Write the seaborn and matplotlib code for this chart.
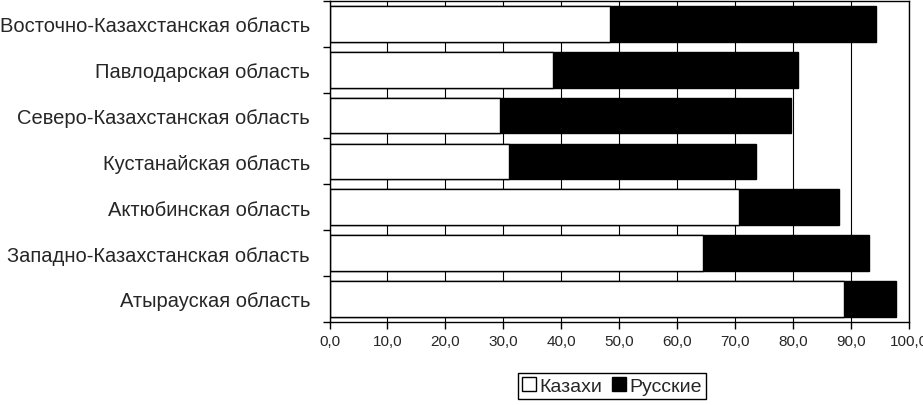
import pandas as pd
import matplotlib.pyplot as plt
import seaborn as sns
import numpy as np
from matplotlib.patches import Patch
from matplotlib.ticker import FixedLocator

# Dati (% della popolazione)
regioni = ["Восточно-Казахстанская область", "Павлодарская область",
           "Северо-Казахстанская область", "Кустанайская область",
           "Актюбинская область", "Западно-Казахстанская область",
           "Атырауская область"]
kazakhi = [48.4, 38.5, 29.4, 31.0, 70.6, 64.4, 88.7]
russkie = [45.9, 42.4, 50.3, 42.6, 17.3, 28.7, 9.0]
xticks = [0, 10, 20, 30, 40, 50, 60, 70, 80, 90, 100]

df = pd.DataFrame({"Регион": regioni, "Казахи": kazakhi, "Русские": russkie})
df["Итого"] = df["Казахи"] + df["Русские"]

sns.set_style("white")
plt.rcParams['font.family'] = ['Liberation Sans', 'DejaVu Sans']

fig, ax = plt.subplots(figsize=(9.23, 4.06), dpi=100)
fig.subplots_adjust(left=0.357, right=0.985, top=0.995, bottom=0.205)

# barre impilate: prima il totale (nero), poi i kazakhi (bianco) sopra
sns.barplot(data=df, y="Регион", x="Итого", color="black", edgecolor="black",
            linewidth=1, width=0.78, orient="h", ax=ax, saturation=1)
sns.barplot(data=df, y="Регион", x="Казахи", color="white", edgecolor="black",
            linewidth=1, width=0.78, orient="h", ax=ax, saturation=1)

ax.set_xlim(0, 100)
ax.set_ylim(len(regioni) - 0.5, -0.5)
ax.set_xticks(xticks)
ax.set_xticklabels([f"{v:.1f}".replace(".", ",") for v in xticks], fontsize=11)
ax.tick_params(axis="y", labelsize=14.5, length=0, pad=14)
ax.yaxis.set_minor_locator(FixedLocator(np.arange(-0.5, len(regioni), 1)))
ax.tick_params(axis="y", which="minor", length=5, width=1, color="black", left=True)
ax.tick_params(axis="x", which="major", length=5, width=1, color="black", bottom=True)
ax.set_xlabel("")
ax.set_ylabel("")
ax.grid(axis="x", color="black", linewidth=0.8)
ax.set_axisbelow(True)
for s in ax.spines.values():
    s.set_color("black")
    s.set_linewidth(1)

handles = [Patch(facecolor="white", edgecolor="black", label="Казахи"),
           Patch(facecolor="black", edgecolor="black", label="Русские")]
fig.legend(handles=handles, loc="center", bbox_to_anchor=(0.663, 0.047), ncol=2,
           frameon=True, fancybox=False, edgecolor="black", fontsize=14,
           handlelength=0.7, handleheight=0.7, handletextpad=0.2,
           columnspacing=0.5, borderpad=0.2, framealpha=1)

plt.savefig("out.png")
